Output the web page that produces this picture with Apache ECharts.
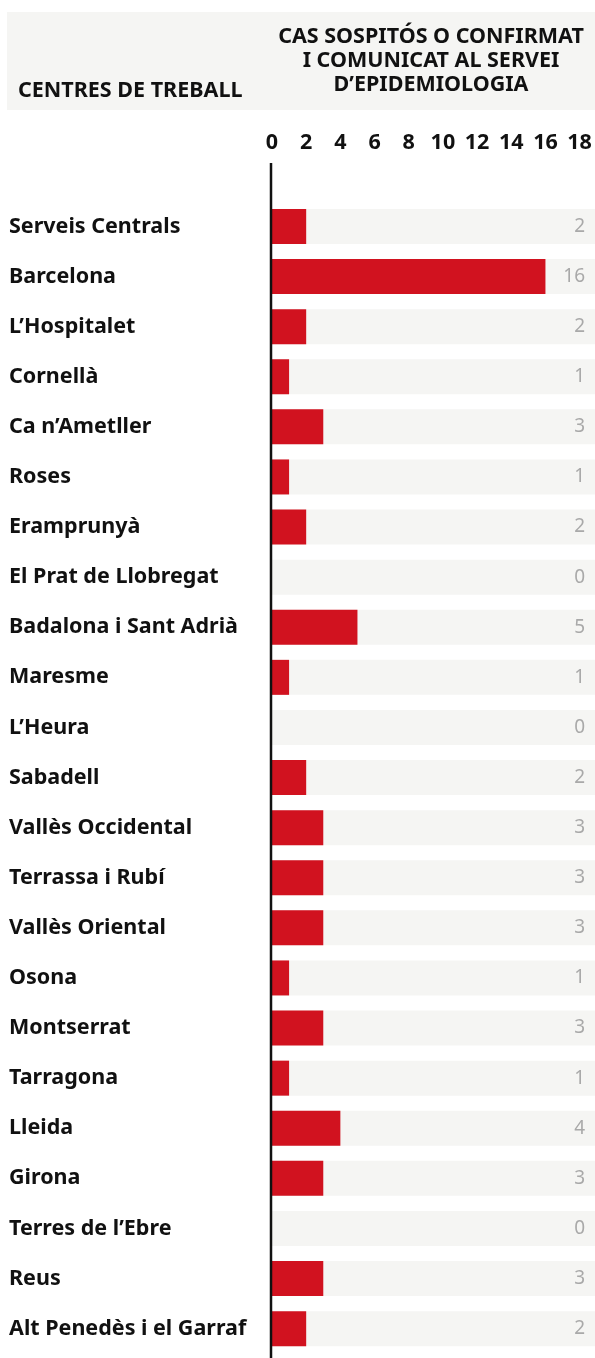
<!DOCTYPE html>
<html>
<head>
<meta charset="utf-8">
<script src="https://cdn.jsdelivr.net/npm/echarts@6/dist/echarts.min.js"></script>
<style>
html,body{margin:0;padding:0;background:#fff;}
#chart{width:595px;height:1358px;}
</style>
</head>
<body>
<div id="chart"></div>
<script>
const categories = ["Serveis Centrals","Barcelona","L\u2019Hospitalet","Cornell\u00e0","Ca n\u2019Ametller","Roses","Erampruny\u00e0","El Prat de Llobregat","Badalona i Sant Adri\u00e0","Maresme","L\u2019Heura","Sabadell","Vall\u00e8s Occidental","Terrassa i Rub\u00ed","Vall\u00e8s Oriental","Osona","Montserrat","Tarragona","Lleida","Girona","Terres de l\u2019Ebre","Reus","Alt Pened\u00e8s i el Garraf"];
const values = [2,16,2,1,3,1,2,0,5,1,0,2,3,3,3,1,3,1,4,3,0,3,2];
const xTicks = [0,2,4,6,8,10,12,14,16,18];
const X_MAX = 18.9;
const leftHeader = "CENTRES DE TREBALL";
const rightHeader = "CAS SOSPIT\u00d3S O CONFIRMAT\nI COMUNICAT AL SERVEI\nD\u2019EPIDEMIOLOGIA";

const FONT = "'Noto Sans', 'Open Sans', sans-serif";
const chart = echarts.init(document.getElementById('chart'), null, {renderer:'canvas'});
chart.setOption({
  animation:false,
  backgroundColor:'#ffffff',
  graphic:[
    {type:'rect', z:-10, shape:{x:7,y:12,width:588,height:98}, style:{fill:'#f5f5f3'}},
    {type:'line', z:100, shape:{x1:271,y1:163,x2:271,y2:1358}, style:{stroke:'#111',lineWidth:2.5}}
  ],
  title:[
    {text:leftHeader, left:18, top:79, padding:0, textStyle:{fontFamily:FONT,fontWeight:'bold',fontSize:21.5,color:'#111',lineHeight:24}},
    {text:rightHeader, left:431, top:24.5, padding:0, textAlign:'center', textStyle:{fontFamily:FONT,fontWeight:'bold',fontSize:21.5,color:'#111',lineHeight:24,align:'center'}}
  ],
  grid:{left:272,right:0,top:201.4,bottom:4.3},
  xAxis:{
    type:'value', position:'top', min:0, max:X_MAX, interval:2,
    axisLine:{show:false}, axisTick:{show:false}, splitLine:{show:false},
    axisLabel:{customValues:xTicks, margin:59, verticalAlign:'middle', fontFamily:FONT, fontWeight:'bold', fontSize:21.5, color:'#111',
      formatter:function(v){return xTicks.indexOf(v)>=0 ? String(v) : '';}}
  },
  yAxis:{
    type:'category', data:categories, inverse:true,
    axisLine:{show:false}, axisTick:{show:false},
    axisLabel:{align:'left', margin:263, fontFamily:FONT, fontWeight:'bold', fontSize:21.5, color:'#111'}
  },
  series:[
    {type:'bar', name:'bg', data:categories.map(()=>X_MAX), barWidth:35, barGap:'-100%', silent:true,
      itemStyle:{color:'#f5f5f3'},
      label:{show:true, position:'insideRight', distance:10, fontFamily:FONT, fontSize:19, color:'#a9a9a9',
        formatter:function(p){return String(values[p.dataIndex]);}}},
    {type:'bar', name:'Casos', data:values, barWidth:35, barGap:'-100%', itemStyle:{color:'#d1121f'}}
  ]
});
</script>
</body>
</html>
